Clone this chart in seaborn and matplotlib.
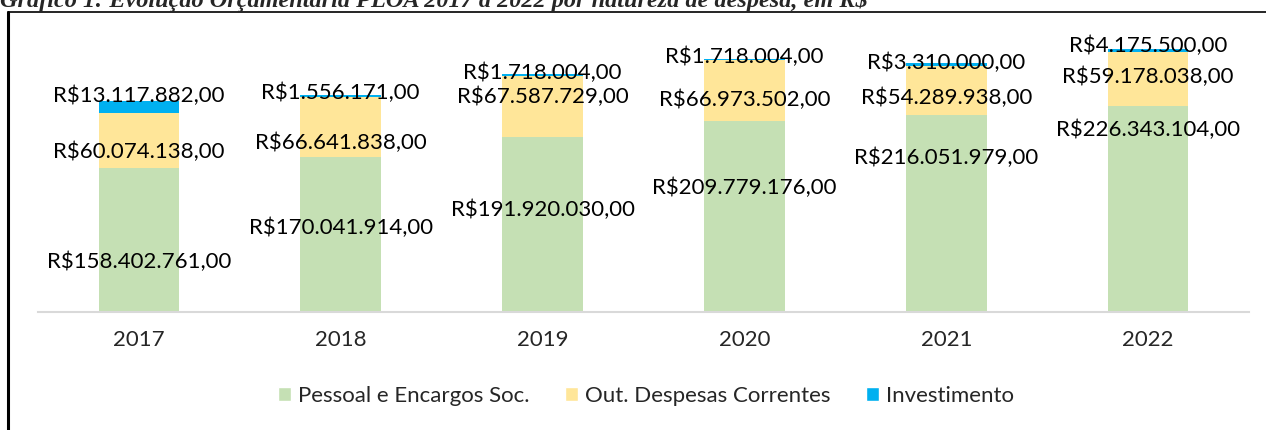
import numpy as np
import pandas as pd
import matplotlib
matplotlib.use('Agg')
import matplotlib.pyplot as plt
import seaborn as sns
from matplotlib.patches import Patch

anos = ['2017', '2018', '2019', '2020', '2021', '2022']
pessoal = [158402761, 170041914, 191920030, 209779176, 216051979, 226343104]
outras = [60074138, 66641838, 67587729, 66973502, 54289938, 59178038]
investimento = [13117882, 1556171, 1718004, 1718004, 3310000, 4175500]
# rotulos de investimento como aparecem no grafico original
rot_invest = ['R$13.117.882,00', 'R$1.556.171,00', 'R$1.718.004,00',
              'R$1.718.004,00', 'R$3.310.000,00', 'R$4.175.500,00']

# altura dos rotulos (em milhoes), posicionados a mao no original
lab_pessoal = [55, 92, 112, 137, 169, 200]
lab_outras = [175.6, 185.5, 236, 232.7, 234.9, 258]
lab_invest = [238, 240.4, 263.4, 280, 274.4, 293]

cor_pessoal = '#C5E0B4'
cor_outras = '#FFE699'
cor_invest = '#00B0F0'


def brl(v):
    s = f'{v:,.2f}'
    s = s.replace(',', 'X').replace('.', ',').replace('X', '.')
    return 'R$' + s


df = pd.DataFrame({'ano': anos,
                   'pessoal': np.array(pessoal) / 1e6,
                   'outras': np.array(outras) / 1e6,
                   'invest': np.array(investimento) / 1e6})
df['base_inv'] = df['pessoal'] + df['outras']

sns.set_theme(style='white')
plt.rcParams['font.family'] = ['Lato', 'DejaVu Sans']

fig = plt.figure(figsize=(12.66, 4.30), dpi=100)
ax = fig.add_axes([0.030, 0.2744, 0.9566, 0.6346])

w = 0.4
sns.barplot(data=df, x='ano', y='pessoal', color=cor_pessoal, width=w,
            saturation=1, ax=ax, linewidth=0)
sns.barplot(data=df, x='ano', y='outras', color=cor_outras, width=w,
            saturation=1, ax=ax, linewidth=0)
sns.barplot(data=df, x='ano', y='invest', color=cor_invest, width=w,
            saturation=1, ax=ax, linewidth=0)

# empilhar: mover as barras seguintes para cima
n = len(anos)
pat = ax.patches
for i in range(n):
    pat[n + i].set_y(df['pessoal'][i])
    pat[2 * n + i].set_y(df['base_inv'][i])

fs = 16
for i in range(n):
    ax.text(i, lab_pessoal[i], brl(pessoal[i]), ha='center', va='center',
            fontsize=fs, color='black')
    ax.text(i, lab_outras[i], brl(outras[i]), ha='center', va='center',
            fontsize=fs, color='black')
    ax.text(i, lab_invest[i], rot_invest[i], ha='center', va='center',
            fontsize=fs, color='black')

ax.set_ylim(0, 300)
ax.set_xlim(-0.5, n - 0.5)
ax.set_xlabel('')
ax.set_ylabel('')
ax.set_yticks([])
for s in ['top', 'right', 'left']:
    ax.spines[s].set_visible(False)
ax.spines['bottom'].set_color('#D9D9D9')
ax.spines['bottom'].set_linewidth(1.5)
ax.tick_params(axis='x', length=0, labelsize=16, pad=13, colors='#262626')
ax.patch.set_alpha(0)

handles = [Patch(facecolor=cor_pessoal, label='Pessoal e Encargos Soc.'),
           Patch(facecolor=cor_outras, label='Out. Despesas Correntes'),
           Patch(facecolor=cor_invest, label='Investimento')]
fig.legend(handles=handles, loc='center', bbox_to_anchor=(646 / 1266, 1 - 396 / 430),
           ncol=3, frameon=False, fontsize=16, handlelength=0.6,
           handleheight=0.6, handletextpad=0.3, columnspacing=1.6)

# moldura
fig.add_artist(plt.Line2D([8 / 1266, 8 / 1266], [0, 1 - 12 / 430],
                          transform=fig.transFigure, color='black', lw=2.2))
fig.add_artist(plt.Line2D([8 / 1266, 1], [1 - 12 / 430, 1 - 12 / 430],
                          transform=fig.transFigure, color='black', lw=1.2))

fig.text(0.0, 1 - 7 / 430,
         'Gráfico 1: Evolução Orçamentária PLOA 2017 a 2022 por natureza de despesa, em R$',
         family='Liberation Serif', weight='bold', style='italic',
         fontsize=17.5, ha='left', va='baseline')

fig.savefig('out.png', dpi=100)
